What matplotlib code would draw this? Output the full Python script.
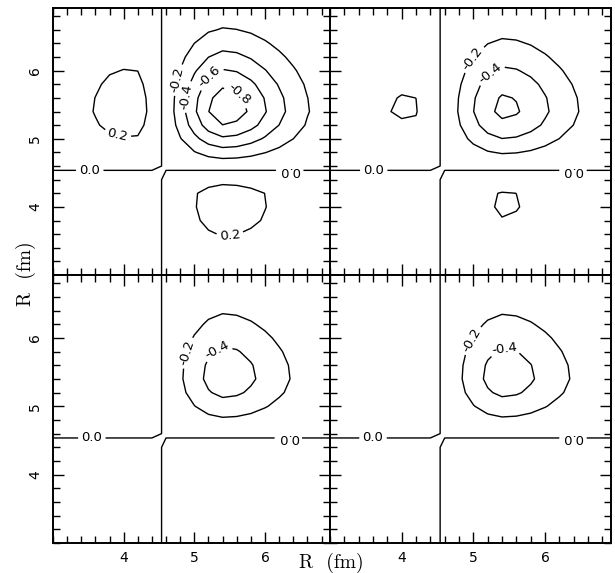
"""Four-panel contour map of an amplitude over (R, R) in fm."""

import matplotlib

matplotlib.use("Agg")

import matplotlib.pyplot as plt
import numpy as np
from matplotlib.ticker import FixedLocator, MultipleLocator


# grid nodes (fm) and the radial profile
r_nodes = [3.0, 3.2, 3.4, 3.6, 3.8, 4.0, 4.2, 4.4, 4.6, 4.8, 5.0,
           5.2, 5.4, 5.6, 5.8, 6.0, 6.2, 6.4, 6.6, 6.8, 7.0]
profile = [-0.05, -0.09, -0.15, -0.22, -0.29, -0.32, -0.31, -0.15, 0.07, 0.32, 0.59,
           0.83, 0.96, 0.92, 0.80, 0.64, 0.48, 0.34, 0.22, 0.14, 0.08]

# strength of each panel: top-left, top-right, bottom-left, bottom-right
panel_scale = [1.0, 0.70, 0.56, 0.55]
contour_levels = [-0.8, -0.6, -0.4, -0.2, 0.0, 0.2]
tick_values = [4, 5, 6]

# (x, y, upside_down) for the contour labels of each panel
panel_labels = [
    [(3.52, 4.54, False), (6.35, 4.54, True), (3.92, 5.08, False),
     (5.50, 3.60, False), (4.70, 5.88, False), (4.84, 5.63, False),
     (5.22, 5.90, False), (5.60, 5.62, False)],
    [(3.61, 4.54, False), (6.39, 4.54, True), (5.00, 6.17, False),
     (5.26, 5.92, False)],
    [(3.55, 4.54, False), (6.33, 4.54, True), (4.82, 5.80, False),
     (5.29, 5.88, False)],
    [(3.60, 4.54, False), (6.39, 4.54, True), (4.95, 5.98, False),
     (5.43, 5.83, False)],
]

W, H = 615, 573
col_px = [53, 330, 611]
row_px = [8, 275, 543]

fig = plt.figure(figsize=(W / 100, H / 100), dpi=100)

r = np.array(r_nodes)
p = np.array(profile)

for k in range(4):
    row, col = divmod(k, 2)
    x0, x1 = col_px[col], col_px[col + 1]
    y0, y1 = row_px[row], row_px[row + 1]
    ax = fig.add_axes([x0 / W, 1 - y1 / H, (x1 - x0) / W, (y1 - y0) / H])

    field = -panel_scale[k] * np.outer(p, p)
    cs = ax.contour(r, r, field, levels=contour_levels, colors="k",
                    linewidths=1.0, linestyles="solid")
    spots = [(lx, ly) for lx, ly, _ in panel_labels[k]]
    texts = ax.clabel(cs, manual=spots, inline=True, fmt="%.1f",
                      fontsize=9.5, inline_spacing=3)
    for txt, (_, _, flip) in zip(texts, panel_labels[k]):
        if flip:
            txt.set_rotation(txt.get_rotation() + 180)

    ax.set_xlim(3.0, 6.92)
    ax.set_ylim(3.0, 6.92)
    for axis in (ax.xaxis, ax.yaxis):
        axis.set_major_locator(FixedLocator(tick_values))
        axis.set_minor_locator(MultipleLocator(0.2))
    ax.tick_params(which="both", direction="in", top=True, right=True,
                   width=1.0, labelsize=10)
    ax.tick_params(which="major", length=8)
    ax.tick_params(which="minor", length=5)
    ax.tick_params(axis="x", pad=6)
    ax.tick_params(axis="y", labelrotation=90, pad=8)
    for lab in ax.get_yticklabels():
        lab.set_va("center")
    if row == 0:
        ax.tick_params(axis="x", labelbottom=False)
    if col == 1:
        ax.tick_params(axis="y", labelleft=False)
    for spine in ax.spines.values():
        spine.set_linewidth(1.4)

fig.text(0.539, 0.018, "R  (fm)", ha="center", va="center",
         family="cmr10", fontsize=14)
fig.text(0.042, 0.523, "R  (fm)", ha="center", va="center", rotation=90,
         family="cmr10", fontsize=14)

fig.savefig("out.png", dpi=100)
